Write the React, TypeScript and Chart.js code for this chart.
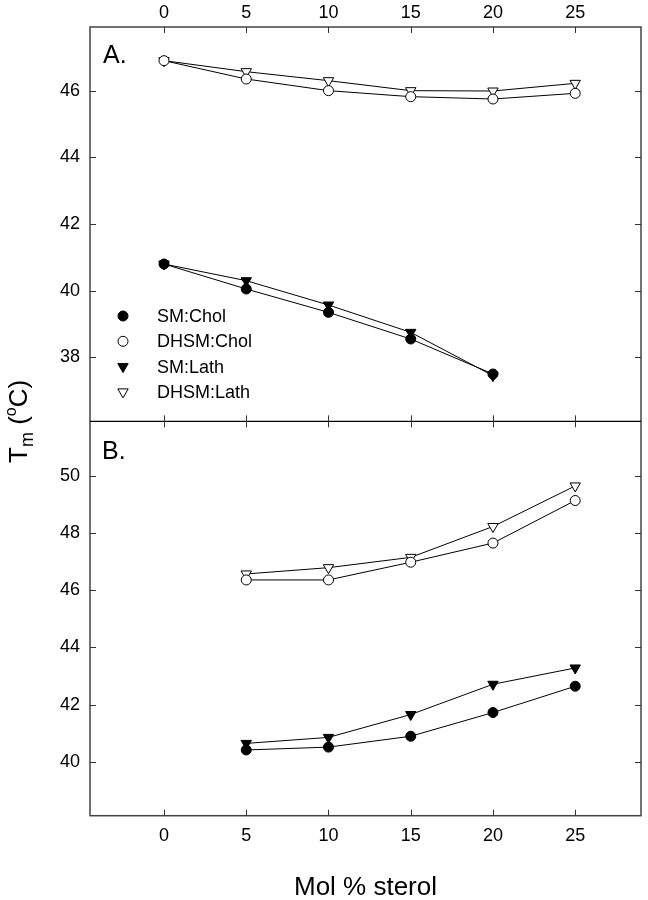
import React, { useEffect, useRef } from 'react';
import { Chart, registerables } from 'chart.js';

Chart.register(...registerables);

// ---- data ----
const xTicks = [0, 5, 10, 15, 20, 25];
const yTicksA = [38, 40, 42, 44, 46];
const yTicksB = [40, 42, 44, 46, 48, 50];

const legendLabels = ['SM:Chol', 'DHSM:Chol', 'SM:Lath', 'DHSM:Lath'];

// Panel A
const molA_SM = [0, 5, 10, 15, 20];
const smCholA = [40.8, 40.05, 39.35, 38.55, 37.5];
const smLathA = [40.8, 40.3, 39.57, 38.75, 37.45];
const molA_DHSM = [0, 5, 10, 15, 20, 25];
const dhsmCholA = [46.9, 46.35, 46.0, 45.82, 45.75, 45.92];
const dhsmLathA = [46.9, 46.57, 46.3, 46.0, 45.99, 46.22];

// Panel B
const molB = [5, 10, 15, 20, 25];
const smCholB = [40.41, 40.51, 40.89, 41.72, 42.64];
const smLathB = [40.64, 40.85, 41.65, 42.71, 43.28];
const dhsmCholB = [46.36, 46.36, 46.98, 47.65, 49.14];
const dhsmLathB = [46.57, 46.79, 47.15, 48.23, 49.65];

const FONT = '"Liberation Sans", Arial, Helvetica, sans-serif';

const pts = (xs: number[], ys: number[]) => ys.map((y, i) => ({ x: xs[i], y }));

type Kind = 'fc' | 'oc' | 'ft' | 'ot';
const styleFor = (k: Kind) => {
  const tri = k === 'ft' || k === 'ot';
  const filled = k === 'fc' || k === 'ft';
  return {
    pointStyle: tri ? 'triangle' : 'circle',
    pointRadius: tri ? 6 : 5,
    pointRotation: tri ? 180 : 0,
    pointBackgroundColor: filled ? '#000' : '#fff',
    pointBorderColor: '#000',
    pointBorderWidth: 1,
    borderColor: '#000',
    borderWidth: 1,
    showLine: true,
    fill: false,
    tension: 0,
  };
};

const ds = (label: string, xs: number[], ys: number[], k: Kind, axis: string) => ({
  label,
  data: pts(xs, ys),
  yAxisID: axis,
  xAxisID: 'x',
  ...styleFor(k),
});

function drawMarker(ctx: CanvasRenderingContext2D, k: Kind, x: number, y: number) {
  const tri = k === 'ft' || k === 'ot';
  const filled = k === 'fc' || k === 'ft';
  ctx.beginPath();
  if (tri) {
    const r = 6;
    let rad = Math.PI;
    ctx.moveTo(x + Math.sin(rad) * r, y - Math.cos(rad) * r);
    rad += (2 * Math.PI) / 3;
    ctx.lineTo(x + Math.sin(rad) * r, y - Math.cos(rad) * r);
    rad += (2 * Math.PI) / 3;
    ctx.lineTo(x + Math.sin(rad) * r, y - Math.cos(rad) * r);
    ctx.closePath();
  } else {
    ctx.arc(x, y, 5, 0, Math.PI * 2);
  }
  ctx.fillStyle = filled ? '#000' : '#fff';
  ctx.fill();
  ctx.strokeStyle = '#000';
  ctx.lineWidth = 1;
  ctx.stroke();
}

const framePlugin = {
  id: 'frame',
  afterDraw(chart: any) {
    const ctx: CanvasRenderingContext2D = chart.ctx;
    const { left, right, top, bottom } = chart.chartArea;
    const x = chart.scales.x;
    const yA = chart.scales.yA;
    const yB = chart.scales.yB;
    const mid = yA.bottom;
    const tl = 6;
    const line = (x1: number, y1: number, x2: number, y2: number) => {
      ctx.beginPath();
      ctx.moveTo(x1, y1);
      ctx.lineTo(x2, y2);
      ctx.stroke();
    };
    ctx.save();
    ctx.strokeStyle = '#444';
    ctx.lineWidth = 1.5;
    ctx.strokeRect(left, top, right - left, bottom - top);
    ctx.strokeStyle = '#000';
    ctx.lineWidth = 1.2;
    line(left, mid, right, mid);
    ctx.strokeStyle = '#333';
    ctx.lineWidth = 1;
    xTicks.forEach((v) => {
      const px = Math.round(x.getPixelForValue(v)) + 0.5;
      line(px, top, px, top + tl);
      line(px, mid - tl, px, mid + tl);
      line(px, bottom, px, bottom - tl);
    });
    yTicksA.forEach((v) => {
      const py = Math.round(yA.getPixelForValue(v)) + 0.5;
      line(left, py, left + tl, py);
      line(right, py, right - tl, py);
    });
    yTicksB.forEach((v) => {
      const py = Math.round(yB.getPixelForValue(v)) + 0.5;
      line(left, py, left + tl, py);
      line(right, py, right - tl, py);
    });

    // panel letters
    ctx.fillStyle = '#000';
    ctx.textAlign = 'left';
    ctx.textBaseline = 'alphabetic';
    ctx.font = `25px ${FONT}`;
    ctx.fillText('A.', 103, 63);
    ctx.fillText('B.', 102, 459);

    // legend
    const kinds: Kind[] = ['fc', 'oc', 'ft', 'ot'];
    ctx.font = `18px ${FONT}`;
    ctx.textBaseline = 'middle';
    legendLabels.forEach((lab, i) => {
      const yy = 316 + i * 25.3;
      drawMarker(ctx, kinds[i], 123, yy);
      ctx.fillStyle = '#000';
      ctx.fillText(lab, 157, yy + 1);
    });

    // x title
    ctx.textAlign = 'center';
    ctx.textBaseline = 'alphabetic';
    ctx.font = `26px ${FONT}`;
    ctx.fillText('Mol % sterol', (left + right) / 2, 895);

    // y title: T_m (°C)
    const big = `26px ${FONT}`;
    const small = `18px ${FONT}`;
    const sup = `16px ${FONT}`;
    const parts = [
      { t: 'T', f: big, dy: 0 },
      { t: 'm', f: small, dy: 6 },
      { t: ' (', f: big, dy: 0 },
      { t: 'o', f: sup, dy: -11 },
      { t: 'C)', f: big, dy: 0 },
    ];
    let total = 0;
    const widths = parts.map((p) => {
      ctx.font = p.f;
      const w = ctx.measureText(p.t).width;
      total += w;
      return w;
    });
    ctx.save();
    ctx.translate(27, (top + bottom) / 2);
    ctx.rotate(-Math.PI / 2);
    ctx.textAlign = 'left';
    let cx = -total / 2;
    parts.forEach((p, i) => {
      ctx.font = p.f;
      ctx.fillText(p.t, cx, p.dy);
      cx += widths[i];
    });
    ctx.restore();
    ctx.restore();
  },
};

export default function App() {
  const ref = useRef<HTMLCanvasElement | null>(null);
  useEffect(() => {
    if (!ref.current) return;
    const tickFont = { family: FONT, size: 18 };
    const noGrid = { display: false, drawTicks: false };
    const xScaleBase = {
      type: 'linear' as const,
      min: -4.5,
      max: 29,
      grid: noGrid,
      border: { display: false },
      afterBuildTicks: (s: any) => {
        s.ticks = xTicks.map((v) => ({ value: v }));
      },
    };
    const chart = new Chart(ref.current, {
      type: 'line',
      data: {
        datasets: [
          ds('SM:Chol', molA_SM, smCholA, 'fc', 'yA'),
          ds('SM:Lath', molA_SM, smLathA, 'ft', 'yA'),
          ds('DHSM:Chol', molA_DHSM, dhsmCholA, 'oc', 'yA'),
          ds('DHSM:Lath', molA_DHSM, dhsmLathA, 'ot', 'yA'),
          ds('SM:Chol B', molB, smCholB, 'fc', 'yB'),
          ds('SM:Lath B', molB, smLathB, 'ft', 'yB'),
          ds('DHSM:Chol B', molB, dhsmCholB, 'oc', 'yB'),
          ds('DHSM:Lath B', molB, dhsmLathB, 'ot', 'yB'),
        ] as any,
      },
      options: {
        animation: false,
        responsive: false,
        maintainAspectRatio: false,
        layout: { padding: { left: 0, right: 6, top: 0, bottom: 0 } },
        plugins: { legend: { display: false }, tooltip: { enabled: false } },
        scales: {
          x: {
            ...xScaleBase,
            position: 'bottom',
            ticks: { font: tickFont, color: '#000', padding: 10, maxRotation: 0 },
            afterFit: (s: any) => {
              s.height = 84.3;
            },
          },
          x2: {
            ...xScaleBase,
            position: 'top',
            ticks: { font: tickFont, color: '#000', padding: 3, maxRotation: 0 },
            afterFit: (s: any) => {
              s.height = 27;
            },
          },
          yB: {
            type: 'linear',
            position: 'left',
            stack: 'panels',
            stackWeight: 1,
            min: 38.11,
            max: 51.91,
            grid: noGrid,
            border: { display: false },
            ticks: { font: tickFont, color: '#000', padding: 10 },
            afterBuildTicks: (s: any) => {
              s.ticks = yTicksB.map((v) => ({ value: v }));
            },
            afterFit: (s: any) => {
              s.width = 90;
            },
          },
          yA: {
            type: 'linear',
            position: 'left',
            stack: 'panels',
            stackWeight: 1,
            min: 36.08,
            max: 47.91,
            grid: noGrid,
            border: { display: false },
            ticks: { font: tickFont, color: '#000', padding: 10 },
            afterBuildTicks: (s: any) => {
              s.ticks = yTicksA.map((v) => ({ value: v }));
            },
            afterFit: (s: any) => {
              s.width = 90;
            },
          },
        } as any,
      },
      plugins: [framePlugin],
    });
    return () => chart.destroy();
  }, []);

  return (
    <div style={{ position: 'absolute', left: 0, top: 0, width: 648, height: 900, background: '#fff' }}>
      <canvas ref={ref} width={648} height={900} style={{ display: 'block' }} />
    </div>
  );
}
